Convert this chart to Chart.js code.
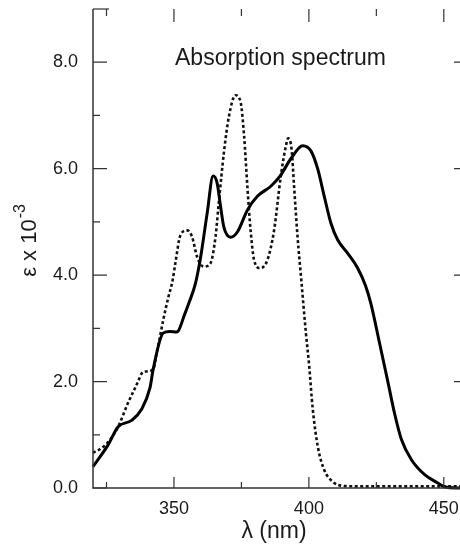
<!DOCTYPE html>
<html><head><meta charset="utf-8">
<script src="https://cdn.jsdelivr.net/npm/chart.js@4.4.1/dist/chart.umd.min.js"></script>
<style>html,body{margin:0;padding:0;background:#fff;overflow:hidden}#wrap{position:relative;width:460px;height:549px}</style>
</head><body><div id="wrap"><canvas id="c" width="460" height="549"></canvas></div>
<script>
// ---- data ----
const solidWavelengths = [320, 325.6, 329.3, 334.3, 338, 341.1, 342.3, 346, 348.5, 351, 354.1, 355.5, 358, 359.8, 362.3, 364.5, 366, 367.3, 368.5, 371, 373.5, 377.2, 380.9, 385.9, 389.3, 393.5, 397.7, 400.8, 403.3, 405.7, 408.2, 410.7, 414.4, 418.1, 421, 423, 426.2, 429.3, 431.8, 434.3, 438, 442.9, 447.9, 450.4, 456];
const solidValues = [0.40, 0.81, 1.15, 1.27, 1.48, 1.88, 2.23, 2.91, 2.94, 2.93, 3.28, 3.47, 3.85, 4.31, 5.16, 5.86, 5.73, 5.28, 4.90, 4.71, 4.81, 5.22, 5.48, 5.67, 5.86, 6.20, 6.43, 6.33, 5.99, 5.48, 4.97, 4.66, 4.41, 4.13, 3.80, 3.46, 2.72, 1.99, 1.39, 0.91, 0.53, 0.25, 0.09, 0.02, 0.0];
const dottedWavelengths = [320, 324, 326.5, 329.3, 333, 336.7, 338, 339.8, 342.3, 343.6, 344.8, 346, 347.9, 349.5, 350.5, 352.4, 354.9, 356.7, 358.6, 361, 363.5, 365.4, 366.6, 368.5, 370.4, 372.8, 374.7, 376, 377.2, 378.4, 379.7, 381.9, 384.6, 387.1, 389.6, 391.5, 392.3, 393.6, 394.5, 395.8, 397.2, 398.9, 400.1, 401.4, 403.3, 405.7, 408.8, 412.6, 420, 456];
const dottedValues = [0.66, 0.78, 0.92, 1.15, 1.60, 2.00, 2.15, 2.19, 2.23, 2.54, 2.84, 3.15, 3.58, 3.90, 4.22, 4.75, 4.84, 4.72, 4.34, 4.16, 4.22, 4.72, 5.35, 6.30, 6.99, 7.38, 7.25, 6.61, 5.67, 4.84, 4.28, 4.13, 4.28, 4.84, 5.86, 6.43, 6.57, 6.36, 5.68, 4.72, 3.90, 2.91, 2.30, 1.50, 0.78, 0.34, 0.12, 0.04, 0.03, 0.03];
const xTickValues = [350, 400, 450];
const xMinorTickValues = [325, 375, 425];
const yTickValues = [0, 2, 4, 6, 8];
const yMinorTickValues = [1, 3, 5, 7];
const titleText = 'Absorption spectrum';
const xAxisTitle = 'λ (nm)';
const yAxisTitle = 'ε x 10';
const yAxisExponent = '-3';

const FONT = '"Liberation Sans", Arial, Helvetica, sans-serif';
const INK = '#1a1a1a';

const framePlugin = {
  id: 'frame',
  afterDraw(chart) {
    const ctx = chart.ctx, a = chart.chartArea;
    const xs = chart.scales.x, ys = chart.scales.y;
    ctx.save();
    ctx.strokeStyle = '#333';
    ctx.lineWidth = 1.5;
    ctx.beginPath();
    ctx.moveTo(a.left, a.top); ctx.lineTo(a.left, a.bottom); ctx.lineTo(a.right, a.bottom);
    ctx.stroke();
    ctx.lineWidth = 1.2;
    ctx.beginPath();
    yTickValues.forEach(v => { const p = ys.getPixelForValue(v); ctx.moveTo(a.left, p); ctx.lineTo(a.left + 14, p); ctx.moveTo(a.right, p); ctx.lineTo(a.right - 6, p); });
    yMinorTickValues.forEach(v => { const p = ys.getPixelForValue(v); ctx.moveTo(a.left, p); ctx.lineTo(a.left + 7, p); });
    xTickValues.forEach(v => { const p = xs.getPixelForValue(v); ctx.moveTo(p, a.bottom); ctx.lineTo(p, a.bottom - 11); ctx.moveTo(p, a.top); ctx.lineTo(p, a.top + 13); });
    xMinorTickValues.forEach(v => { const p = xs.getPixelForValue(v); ctx.moveTo(p, a.bottom); ctx.lineTo(p, a.bottom - 6); ctx.moveTo(p, a.top); ctx.lineTo(p, a.top + 7); });
    ctx.stroke();
    ctx.beginPath(); ctx.moveTo(a.left, a.top); ctx.lineTo(a.left + 16, a.top); ctx.stroke();

    ctx.fillStyle = INK;
    ctx.textBaseline = 'alphabetic';
    ctx.textAlign = 'left';
    ctx.font = '23px ' + FONT;
    ctx.fillText(titleText, 175, 65);

    ctx.textAlign = 'center';
    ctx.font = '23px ' + FONT;
    ctx.fillText(xAxisTitle, 274, 538);

    ctx.translate(36, 241);
    ctx.rotate(-Math.PI / 2);
    ctx.font = '22px ' + FONT;
    const w1 = ctx.measureText(yAxisTitle).width;
    ctx.font = '16px ' + FONT;
    const w2 = ctx.measureText(yAxisExponent).width;
    const start = -(w1 + w2) / 2;
    ctx.textAlign = 'left';
    ctx.font = '22px ' + FONT;
    ctx.fillText(yAxisTitle, start, 0);
    ctx.font = '16px ' + FONT;
    ctx.fillText(yAxisExponent, start + w1 + 1, -11);
    ctx.restore();
  }
};

const toPts = (xs, ys) => xs.map((x, i) => ({ x: x, y: ys[i] }));
const noPad = s => { s.paddingTop = 0; s.paddingBottom = 0; s.paddingLeft = 0; s.paddingRight = 0; };

new Chart(document.getElementById('c'), {
  type: 'line',
  data: {
    datasets: [
      { label: 'solid', data: toPts(solidWavelengths, solidValues), borderColor: '#000', borderWidth: 3, pointRadius: 0, cubicInterpolationMode: 'monotone', fill: false, clip: 8 },
      { label: 'dotted', data: toPts(dottedWavelengths, dottedValues), borderColor: '#111', borderWidth: 2.6, borderDash: [3, 2.5], pointRadius: 0, cubicInterpolationMode: 'monotone', fill: false, clip: 8 }
    ]
  },
  options: {
    responsive: false,
    animation: false,
    devicePixelRatio: 1,
    layout: { padding: { top: 9, right: 0, left: 0, bottom: 0 } },
    plugins: { legend: { display: false }, tooltip: { enabled: false }, title: { display: false } },
    scales: {
      x: {
        type: 'linear', min: 320, max: 456,
        grid: { display: false, drawTicks: false },
        border: { display: false },
        afterBuildTicks: s => { s.ticks = xTickValues.map(v => ({ value: v })); },
        afterFit: s => { s.height = 61; noPad(s); },
        ticks: { padding: 10, maxRotation: 0, autoSkip: false, color: INK, font: { family: FONT, size: 18 }, callback: v => String(v) }
      },
      y: {
        min: 0, max: 9,
        grid: { display: false, drawTicks: false },
        border: { display: false },
        afterBuildTicks: s => { s.ticks = yTickValues.map(v => ({ value: v })); },
        afterFit: s => { s.width = 93; noPad(s); },
        ticks: { padding: 15, color: INK, font: { family: FONT, size: 18 }, callback: v => Number(v).toFixed(1) }
      }
    }
  },
  plugins: [framePlugin]
});
</script></body></html>
